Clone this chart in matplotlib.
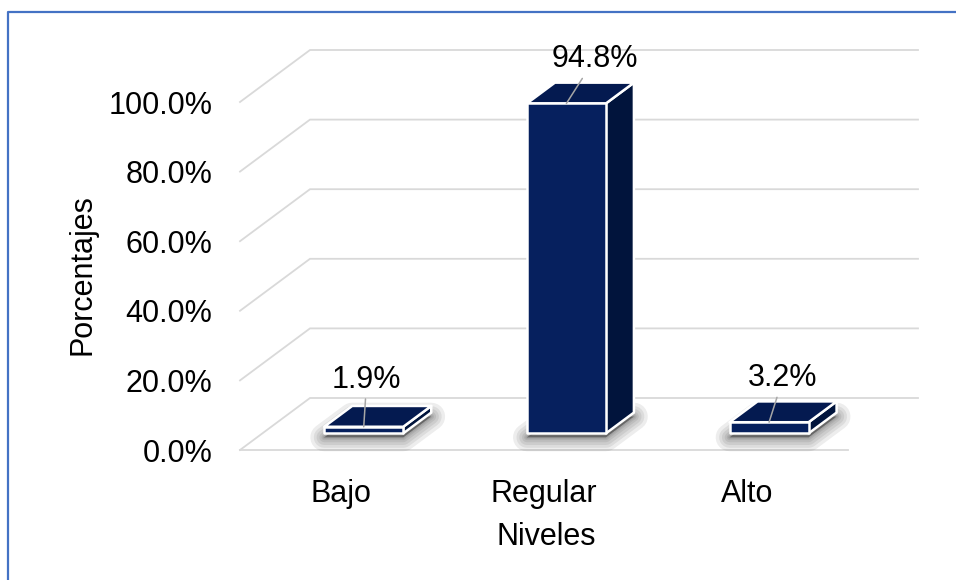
import matplotlib
matplotlib.use('Agg')
import matplotlib.pyplot as plt
from matplotlib.patches import Polygon
from matplotlib.lines import Line2D

# --- data -------------------------------------------------------------
categorias = ['Bajo', 'Regular', 'Alto']
porcentajes = [1.9, 94.8, 3.2]
ticks_y = [0, 20, 40, 60, 80, 100]
etiquetas_y = [f'{t:.1f}%' for t in ticks_y]
etiquetas_valor = [f'{p:.1f}%' for p in porcentajes]

# --- figure -----------------------------------------------------------
W, H, DPI = 956, 580, 100
plt.rcParams['font.family'] = ['Liberation Sans', 'DejaVu Sans']
FS = 22

fig = plt.figure(figsize=(W / DPI, H / DPI), dpi=DPI)
fig.patch.set_facecolor('white')

# front plane of the 3-D box (pixels)
X0, X1, Y0, Y1 = 240, 848, 450, 102
ax = fig.add_axes([X0 / W, 1 - Y0 / H, (X1 - X0) / W, (Y0 - Y1) / H])
n = len(categorias)
ax.set_xlim(0, n)
ax.set_ylim(0, 100)
for s in ax.spines.values():
    s.set_visible(False)
ax.patch.set_visible(False)

# depth of the box, converted to data units
px_cat = (X1 - X0) / n
px_pct = (Y0 - Y1) / 100
DX = 70 / px_cat
DY = 52 / px_pct


def p(x, y, d):
    """Point (x, y) pushed back to depth d (0 = front, 1 = back wall)."""
    return (x + d * DX, y + d * DY)


# --- walls and floor --------------------------------------------------
grid = '#d9d9d9'
for t in ticks_y:
    pts = [p(0, t, 0), p(0, t, 1), p(n, t, 1)]
    xs, ys = zip(*pts)
    ax.plot(xs, ys, color=grid, lw=1.3, clip_on=False, zorder=1,
            solid_joinstyle='miter')
ax.plot([0, n], [0, 0], color=grid, lw=1.3, clip_on=False, zorder=1)

# --- bars -------------------------------------------------------------
HALF = 0.195
D0, D1 = 0.32, 0.72
c_front = '#06205e'
c_top = '#041a50'
c_side = '#01143c'
shadow_drop = 4 / px_pct

for i, v in enumerate(porcentajes):
    c = i + 0.5
    l, r = c - HALF, c + HALF

    # soft drop shadow around the footprint
    foot = [p(l, 0, D0), p(r, 0, D0), p(r, 0, D1), p(l, 0, D1)]
    foot = [(x, y - shadow_drop) for x, y in foot]
    for lw in (20, 15, 11, 7, 4, 2):
        ax.add_patch(Polygon(foot, closed=True, fc=(0, 0, 0, 0.07),
                             ec=(0, 0, 0, 0.07), lw=lw, joinstyle='round',
                             clip_on=False, zorder=2))

    side = [p(r, 0, D0), p(r, v, D0), p(r, v, D1), p(r, 0, D1)]
    top = [p(l, v, D0), p(r, v, D0), p(r, v, D1), p(l, v, D1)]
    front = [p(l, 0, D0), p(r, 0, D0), p(r, v, D0), p(l, v, D0)]
    for poly, col in ((side, c_side), (top, c_top), (front, c_front)):
        ax.add_patch(Polygon(poly, closed=True, fc=col, ec='white', lw=1.8,
                             joinstyle='round', clip_on=False, zorder=3))

# --- value labels with leader lines ------------------------------------
label_offsets = [(3, 47), (28, 44), (14, 44)]
for i, (v, txt) in enumerate(zip(porcentajes, etiquetas_valor)):
    ax.annotate(txt, xy=p(i + 0.5, v, D0), xytext=label_offsets[i],
                textcoords='offset pixels', ha='center', va='center',
                fontsize=FS, color='black', annotation_clip=False,
                arrowprops=dict(arrowstyle='-', color='#a6a6a6', lw=1.1,
                                shrinkA=1, shrinkB=0),
                zorder=6)

# --- axes text --------------------------------------------------------
ax.set_yticks(ticks_y, etiquetas_y)
ax.tick_params(axis='y', length=0, pad=20, labelsize=FS)
ax.set_xticks([i + 0.5 for i in range(n)], categorias)
ax.tick_params(axis='x', length=0, pad=21, labelsize=FS)

fig.text(83 / W, 1 - 275 / H, 'Porcentajes', rotation=90, ha='center',
         va='center', fontsize=FS)
fig.text(546 / W, 1 - 537 / H, 'Niveles', ha='center', va='center',
         fontsize=FS)

# chart frame
fig.add_artist(Line2D([8 / W, 8 / W, 1], [0, 1 - 12 / H, 1 - 12 / H],
                      transform=fig.transFigure, color='#4472C4', lw=1.6))

fig.savefig('out.png', dpi=DPI)
